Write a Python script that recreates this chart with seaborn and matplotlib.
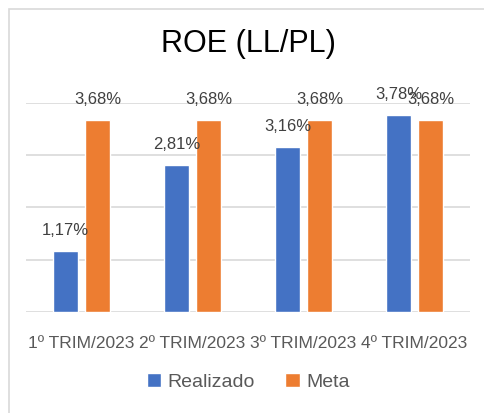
import matplotlib
matplotlib.use("Agg")
import matplotlib.pyplot as plt
import matplotlib.patches as mpatches
import pandas as pd
import seaborn as sns

# ======================
# DATA
# ======================
trimestres = ['1º TRIM/2023', '2º TRIM/2023', '3º TRIM/2023', '4º TRIM/2023']
realizado = [1.17, 2.81, 3.16, 3.78]
meta = [3.68, 3.68, 3.68, 3.68]
series = ['Realizado', 'Meta']
cores = ['#4472C4', '#ED7D31']

df = pd.DataFrame({
    'Trimestre': trimestres * 2,
    'Serie': [series[0]] * 4 + [series[1]] * 4,
    'Valor': realizado + meta,
})

# ======================
# PLOT
# ======================
sns.set_style('white')
plt.rcParams['font.family'] = ['Liberation Sans', 'DejaVu Sans']

fig = plt.figure(figsize=(4.84, 4.14), dpi=100)
ax = fig.add_axes([26 / 484, 1 - 312.7 / 414, 444 / 484, 208.5 / 414])

sns.barplot(data=df, x='Trimestre', y='Valor', hue='Serie', palette=cores,
            saturation=1, width=0.577, gap=0.22, ax=ax, legend=True)

ax.set_ylim(0, 4)
ax.set_yticks([0, 1, 2, 3, 4])
ax.yaxis.grid(True, color='#D9D9D9', lw=1.2)
ax.set_axisbelow(True)
ax.tick_params(axis='y', left=False, labelleft=False)
ax.tick_params(axis='x', bottom=False, labelsize=12.5, labelcolor='#595959', pad=13)
for s in ax.spines.values():
    s.set_visible(False)
ax.set_xlabel('')
ax.set_ylabel('')

for cont in ax.containers:
    txts = ax.bar_label(cont, labels=[f"{v:.2f}".replace('.', ',') + '%' for v in cont.datavalues],
                        padding=10, fontsize=12, color='#404040')
    if cont.get_label() == 'Realizado':
        # Excel pushes the last label a bit left where it meets the Meta label
        txts[-1].set_x(-6)

ax.set_title('ROE (LL/PL)', fontsize=22, color='#000000', pad=37.5)

handles, labels = ax.get_legend_handles_labels()
ax.legend(handles, labels, loc='center', bbox_to_anchor=(0.5, -0.335), ncol=2,
          frameon=False, fontsize=14, handlelength=0.75, handleheight=0.75,
          handletextpad=0.3, columnspacing=1.6, labelcolor='#595959')

# chart border like the Excel frame
fig.patches.append(mpatches.Rectangle((8.5 / 484, -0.1), 1.2, 1.1 - 10.5 / 414,
                                      transform=fig.transFigure, fill=False,
                                      edgecolor='#D9D9D9', lw=1.2))

fig.savefig('out.png', dpi=100)
